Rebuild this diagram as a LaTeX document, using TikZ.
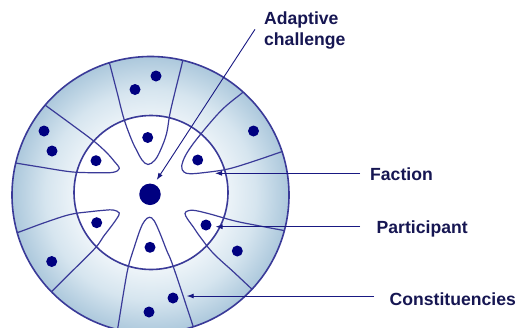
\documentclass[tikz,border=0pt]{standalone}
\usepackage{fontspec}
\setmainfont{Liberation Sans}
\usetikzlibrary{arrows.meta}
\definecolor{ringin}{RGB}{236,243,248}
\definecolor{ringmid}{RGB}{214,229,239}
\definecolor{ringout}{RGB}{172,200,220}
\definecolor{linecol}{RGB}{58,58,152}
\definecolor{dotcol}{RGB}{0,0,128}
\definecolor{arrowcol}{RGB}{25,25,130}
\definecolor{textcol}{RGB}{22,22,82}
\pgfdeclareradialshading{ringshade}{\pgfpoint{0bp}{0bp}}{color(0bp)=(ringin); color(13.9bp)=(ringin); color(19bp)=(ringmid); color(25bp)=(ringout); color(50bp)=(ringout)}
\begin{document}
\begin{tikzpicture}[x=1pt,y=-1pt,
  petalline/.style={draw=linecol, line width=1.2pt},
  ringline/.style={draw=linecol, line width=1.6pt},
  smalldot/.style={circle, fill=dotcol, inner sep=0pt, minimum size=11pt},
  bigdot/.style={circle, fill=dotcol, inner sep=0pt, minimum size=21.5pt},
  pointerline/.style={draw=arrowcol, line width=0.9pt, -{Latex[length=7pt,width=5pt]}},
  lbl/.style={text=textcol, font=\fontsize{17.6}{21.7}\selectfont\bfseries, inner sep=0pt, align=left}]
\useasboundingbox (0,0) rectangle (519,327);
\coordinate (oc) at (150.5,195);
\coordinate (ic) at (151,192.5);
% ring
\shade[shading=ringshade] (oc) circle[radius=138.5pt];
\fill[white] (ic) circle[radius=77pt];
% petals
\begin{scope}
\clip (oc) circle[radius=138.5pt];
% top
\draw[petalline] plot[smooth, tension=0.6] coordinates {(108.5,60) (110,65) (117,92) (124,119) (131.7,140) (137,151) (142,160) (148,164.5) (155,160) (161,149) (166.7,133) (170.7,110) (181.7,65) (183,59)};
% upper right
\draw[petalline] plot[smooth, tension=0.6] coordinates {(246,89.7) (241.7,93.3) (221.7,110) (200,135) (186.7,153.3) (181.7,166) (184,172) (190,173.7) (203.3,172.7) (226.7,169.3) (250,162.5) (281.7,151.7) (287,149.8)};
% upper left
\draw[petalline] plot[smooth, tension=0.6] coordinates {(42,102.5) (45,105) (70,123.3) (93.3,140.7) (106,152) (114,161) (119.3,168.5) (113.3,172.3) (100,172.7) (90,172.7) (70,171.7) (40,167) (17.3,163.3) (12,162.4)};
% lower left
\draw[petalline] plot[smooth, tension=0.6] coordinates {(14,233.5) (20,231.7) (45,222.5) (70,214.5) (90,211.7) (105,210.2) (113.3,210) (119.3,213) (116.5,219) (110,228) (103.3,236.7) (95,248.3) (70,273.3) (53.3,290) (50,293.5)};
% lower right
\draw[petalline] plot[smooth, tension=0.6] coordinates {(290.5,231.7) (285,230.7) (260,226) (235,221) (210,214) (195,210.5) (188,210.8) (185,213.5) (187.5,219) (193,226.5) (200,236.7) (213.3,253.3) (233.3,271.7) (249.3,286.7) (255,292)};
% bottom
\draw[petalline] plot[smooth, tension=0.6] coordinates {(116.5,335) (118.3,325) (124,290) (128.3,266.7) (134,248) (140,230) (144.5,221) (149.3,217.3) (154,220.5) (160,233.3) (166.5,250) (173.3,266.7) (192.7,325) (195.5,334)};
\end{scope}
\draw[ringline] (ic) circle[radius=77pt];
\draw[ringline] (oc) circle[radius=138.5pt];
% dots
\node[bigdot] (challenge) at (150,194.3) {};
\node[smalldot] (p1) at (147.7,137.5) {};
\node[smalldot] (p2) at (96,160.7) {};
\node[smalldot] (p3) at (197.7,160) {};
\node[smalldot] (p4) at (96.7,222.7) {};
\node[smalldot] (p5) at (206,225) {};
\node[smalldot] (p6) at (150,247.3) {};
\node[smalldot] (c1) at (156,76) {};
\node[smalldot] (c2) at (135,89.5) {};
\node[smalldot] (c3) at (44,131) {};
\node[smalldot] (c4) at (52,151) {};
\node[smalldot] (c5) at (253.5,131) {};
\node[smalldot] (c6) at (51.7,261.5) {};
\node[smalldot] (c7) at (237.3,251) {};
\node[smalldot] (c8) at (173,298) {};
\node[smalldot] (c9) at (149,312) {};
% labels
\node[lbl, anchor=base west] (adapt) at (264,45.7) {Adaptive\\challenge};
\node[lbl, anchor=base west] (faction) at (370,180.7) {Faction};
\node[lbl, anchor=base west] (particip) at (376.5,233.3) {Participant};
\node[lbl, anchor=base west] (constit) at (389.5,305) {Constituencies};
% pointers
\coordinate (a0) at (255,29.3);
\coordinate (a1) at (156.7,180);
\coordinate (f0) at (360,173.3);
\coordinate (f1) at (215,173.3);
\coordinate (q0) at (360,226.7);
\coordinate (q1) at (215.5,226.7);
\coordinate (k0) at (374,296);
\coordinate (k1) at (186.7,296);
\draw[pointerline] (a0) -- (a1);
\draw[pointerline] (f0) -- (f1);
\draw[pointerline] (q0) -- (q1);
\draw[pointerline] (k0) -- (k1);
\end{tikzpicture}
\end{document}
